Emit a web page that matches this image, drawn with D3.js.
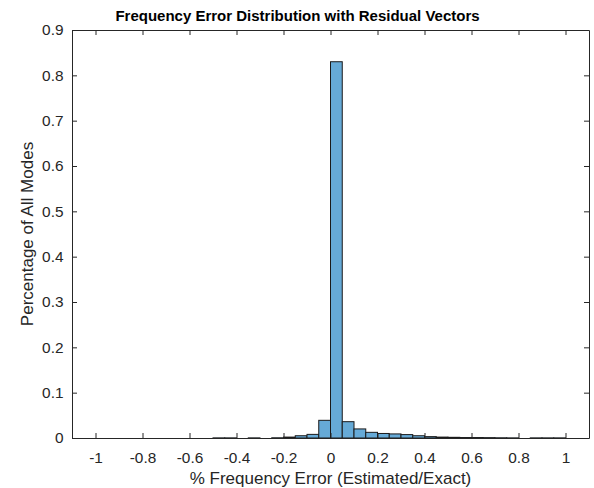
<!DOCTYPE html>
<html lang="en">
<head>
  <meta charset="UTF-8">
  <title>Frequency Error Distribution</title>
  <script src="https://d3js.org/d3.v7.min.js"></script>
  <style>
    body { margin: 0; background: #fff; font-family: "Liberation Sans", Arial, sans-serif; }
    .tick text { font-size: 15.4px; fill: #262626; font-family: "Liberation Sans", Arial, sans-serif; }
    .bar { fill: #66aad7; stroke: #1a1a1a; stroke-width: 1; }
  </style>
</head>
<body>
  <svg width="594" height="488"></svg>

  <script>
    // histogram bins: left edges, width 0.05
    const binStarts = [-0.5, -0.45, -0.4, -0.35, -0.3, -0.25, -0.2, -0.15, -0.1, -0.05,
                       0, 0.05, 0.1, 0.15, 0.2, 0.25, 0.3, 0.35, 0.4, 0.45,
                       0.5, 0.55, 0.6, 0.65, 0.7, 0.75, 0.8, 0.85, 0.9, 0.95];
    const binValues = [0.0003, 0.0003, 0, 0.0003, 0, 0.0005, 0.002, 0.005, 0.008, 0.039,
                       0.83, 0.036, 0.02, 0.0125, 0.010, 0.009, 0.0075, 0.005, 0.003, 0.002,
                       0.0015, 0.001, 0.001, 0.0008, 0.0005, 0.0003, 0, 0.0003, 0.0003, 0.0003];
    const binWidth = 0.05;
    const xTicks = [-1, -0.8, -0.6, -0.4, -0.2, 0, 0.2, 0.4, 0.6, 0.8, 1];
    const yTicks = [0, 0.1, 0.2, 0.3, 0.4, 0.5, 0.6, 0.7, 0.8, 0.9];

    const plotL = 72, plotR = 589, plotT = 30, plotB = 438;
    const svg = d3.select("svg");

    const x = d3.scaleLinear().domain([-1.1, 1.1]).range([plotL, plotR]);
    const y = d3.scaleLinear().domain([0, 0.9]).range([plotB, plotT]);

    // Bars
    svg.append("g")
      .selectAll("rect")
      .data(binStarts.map((s, i) => ({ s, v: binValues[i] })).filter(d => d.v > 0))
      .enter().append("rect")
      .attr("class", "bar")
      .attr("x", d => x(d.s))
      .attr("width", d => x(d.s + binWidth) - x(d.s))
      .attr("y", d => y(d.v))
      .attr("height", d => y(0) - y(d.v));

    // plain hyphen minus like the original
    const fmt = d => String(d);

    // Axes (box on, ticks inward)
    const gx = svg.append("g").attr("transform", `translate(0,${plotB})`)
      .call(d3.axisBottom(x).tickValues(xTicks).tickSizeInner(-5).tickSizeOuter(0).tickPadding(14).tickFormat(fmt));
    const gxTop = svg.append("g").attr("transform", `translate(0,${plotT})`)
      .call(d3.axisTop(x).tickValues(xTicks).tickSizeInner(-5).tickSizeOuter(0).tickFormat(""));
    const gy = svg.append("g").attr("transform", `translate(${plotL},0)`)
      .call(d3.axisLeft(y).tickValues(yTicks).tickSizeInner(-5).tickSizeOuter(0).tickPadding(8.5).tickFormat(fmt));
    const gyR = svg.append("g").attr("transform", `translate(${plotR},0)`)
      .call(d3.axisRight(y).tickValues(yTicks).tickSizeInner(-5).tickSizeOuter(0).tickFormat(""));

    [gx, gxTop, gy, gyR].forEach(g => {
      g.select(".domain").attr("stroke", "#262626");
      g.selectAll(".tick line").attr("stroke", "#262626");
    });

    // Title and labels
    svg.append("text")
      .attr("x", 297.5).attr("y", 21)
      .attr("text-anchor", "middle")
      .style("font-size", "15px").style("font-weight", "bold")
      .text("Frequency Error Distribution with Residual Vectors");

    svg.append("text")
      .attr("x", (plotL + plotR) / 2).attr("y", 484)
      .attr("text-anchor", "middle")
      .style("font-size", "17px").style("fill", "#262626")
      .text("% Frequency Error (Estimated/Exact)");

    svg.append("text")
      .attr("transform", `translate(33,${(plotT + plotB) / 2}) rotate(-90)`)
      .attr("text-anchor", "middle")
      .style("font-size", "17px").style("fill", "#262626")
      .text("Percentage of All Modes");
  </script>
</body>
</html>
